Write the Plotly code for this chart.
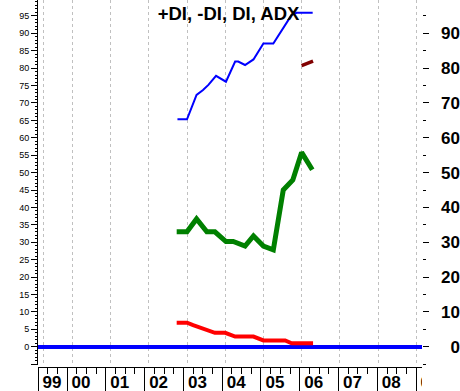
import plotly.graph_objects as go

# ---- data (decimal years) ----
plus_di_t = [2002.75, 2003.0, 2003.25, 2003.42, 2003.56, 2003.76, 2004.02, 2004.26, 2004.34,
             2004.52, 2004.74, 2005.0, 2005.26, 2005.52, 2005.74, 2005.87, 2006.29]
plus_di = [65.3, 65.3, 72.3, 73.7, 75.2, 77.8, 76.1, 81.9, 81.9,
           80.9, 82.5, 87.1, 87.1, 91.4, 95.3, 95.9, 95.9]

di_t = [2002.73, 2003.0, 2003.25, 2003.52, 2003.73, 2004.02, 2004.21, 2004.52,
        2004.74, 2005.0, 2005.26, 2005.52, 2005.77, 2006.0, 2006.28]
di = [33.0, 33.0, 36.7, 33.0, 33.0, 30.2, 30.2, 28.9,
      31.8, 28.9, 27.8, 45.0, 47.9, 55.8, 50.8]

minus_di_t = [2002.73, 2003.0, 2003.16, 2003.34, 2003.56, 2003.73, 2004.0,
              2004.26, 2004.74, 2005.0, 2005.57, 2005.74, 2006.3]
minus_di = [6.9, 6.9, 6.2, 5.5, 4.6, 4.0, 4.0, 2.9, 2.9, 1.8, 1.8, 1.0, 1.0]

adx_t = [2006.0, 2006.3]
adx = [80.7, 82.0]

year_ticks = [1999.25] + list(range(2000, 2010))
year_labels = ["99", "00", "01", "02", "03", "04", "05", "06", "07", "08", "09"]
quarter_ticks = [1999.5, 1999.75] + [y + q for y in range(2000, 2009) for q in (0.25, 0.5, 0.75)]

left_vals = list(range(-5, 100, 5))
left_text = ["" if v < 0 else str(v) for v in left_vals]
right_vals = list(range(0, 100, 10))
right_text = ["\u2007" + str(v) if v < 10 else str(v) for v in right_vals]
right_minor = [-5] + list(range(5, 100, 10))

# ---- geometry helpers (pixel layout) ----
W, H = 460, 391
PX0, PX1 = 38.0, 421.7          # plot area left/right in px
AX0 = 43.75                      # bottom axis start
def px_to_t(px):
    return 2003 + (px - 187.0) / 38.2

x_range = [px_to_t(PX0), px_to_t(PX1)]
x2_range = [px_to_t(AX0), px_to_t(PX1)]
PLOT_BOTTOM = 365.0
AXIS_Y = 366.7
y_range = [-(PLOT_BOTTOM - 346.7) / 3.482, 346.7 / 3.482]

font_family = "Liberation Sans, Arial, sans-serif"

fig = go.Figure()
fig.add_trace(go.Scatter(x=minus_di_t, y=minus_di, mode="lines", name="-DI",
                         line=dict(color="#ff0000", width=4)))
fig.add_trace(go.Scatter(x=di_t, y=di, mode="lines", name="DI",
                         line=dict(color="#008000", width=5)))
fig.add_trace(go.Scatter(x=plus_di_t, y=plus_di, mode="lines", name="+DI",
                         line=dict(color="#0000ff", width=2)))
fig.add_trace(go.Scatter(x=adx_t, y=adx, mode="lines", name="ADX",
                         line=dict(color="#800000", width=3.5)))
# invisible traces to activate extra axes
fig.add_trace(go.Scatter(x=[None], y=[None], xaxis="x2", yaxis="y", showlegend=False))
fig.add_trace(go.Scatter(x=[None], y=[None], xaxis="x3", yaxis="y", showlegend=False))
fig.add_trace(go.Scatter(x=[None], y=[None], xaxis="x", yaxis="y2", showlegend=False))

ydom = [(H - PLOT_BOTTOM) / H, 1.0]
fig.update_layout(
    width=W, height=H, autosize=False,
    margin=dict(l=0, r=0, t=0, b=0, pad=0),
    paper_bgcolor="white", plot_bgcolor="white",
    showlegend=False, hovermode=False,
    title=dict(text="<b>+DI, -DI, DI, ADX</b>", x=228.5 / W, xanchor="center",
               y=1 - 14 / H, yanchor="middle", automargin=False,
               font=dict(family=font_family, size=18.5, color="black")),
    xaxis=dict(domain=[PX0 / W, PX1 / W], range=x_range, showline=False, automargin=False,
               tickmode="array", tickvals=year_ticks, showticklabels=False, ticks="",
               showgrid=True, gridcolor="#c0c0c0", gridwidth=1, griddash="3px,3px",
               zeroline=False, fixedrange=True),
    xaxis2=dict(domain=[AX0 / W, PX1 / W], range=x2_range, anchor="free", automargin=False,
                position=(H - AXIS_Y) / H, overlaying="x",
                showline=True, linecolor="black", linewidth=1,
                tickmode="array", tickvals=year_ticks, showticklabels=False,
                ticks="outside", ticklen=26, tickcolor="black", tickwidth=1,
                minor=dict(tickmode="array", tickvals=quarter_ticks, ticks="outside",
                           ticklen=6, tickcolor="black", tickwidth=1, showgrid=False),
                showgrid=False, zeroline=False, fixedrange=True),
    xaxis3=dict(domain=[AX0 / W, PX1 / W], range=x2_range, anchor="free", automargin=False,
                position=(H - AXIS_Y) / H, overlaying="x",
                showline=False, tickmode="array", tickvals=year_ticks, ticktext=year_labels,
                ticklabelposition="outside right", ticklabelshift=4,
                ticklabeloverflow="allow",
                ticks="outside", ticklen=3, tickcolor="rgba(0,0,0,0)",
                tickfont=dict(family=font_family, size=17, color="black", weight="bold"),
                showgrid=False, zeroline=False, fixedrange=True),
    yaxis=dict(domain=ydom, range=y_range, showline=True, linecolor="black", linewidth=1,
               automargin=False,
               tickmode="array", tickvals=left_vals, ticktext=left_text,
               ticks="outside", ticklen=6, tickcolor="black", tickwidth=1,
               minor=dict(dtick=1, tick0=0, ticks="outside", ticklen=2,
                          tickcolor="black", tickwidth=1, showgrid=False),
               tickfont=dict(family=font_family, size=9, color="black"),
               showgrid=False, zeroline=True, zerolinecolor="#0000ff", zerolinewidth=4,
               fixedrange=True),
    yaxis2=dict(domain=ydom, range=y_range, overlaying="y", side="right", anchor="x",
                automargin=False,
                showline=False, tickmode="array", tickvals=right_vals, ticktext=right_text,
                ticks="outside", ticklen=6, tickcolor="black", tickwidth=1,
                minor=dict(tickmode="array", tickvals=right_minor, ticks="outside",
                           ticklen=3, tickcolor="black", tickwidth=1, showgrid=False),
                tickfont=dict(family=font_family, size=17, color="black", weight="bold"),
                ticklabelstandoff=9,
                showgrid=False, zeroline=False, fixedrange=True),
    shapes=[dict(type="rect", xref="paper", yref="paper", x0=(PX1 + 0.3) / W, x1=1.0,
                 y0=0, y1=(H - AXIS_Y - 1) / H, fillcolor="white", line=dict(width=0),
                 layer="above")],
)

fig.write_html("out.html", config={"displayModeBar": False, "staticPlot": True},
               post_script="document.body.style.margin='0';document.body.style.padding='0';")
